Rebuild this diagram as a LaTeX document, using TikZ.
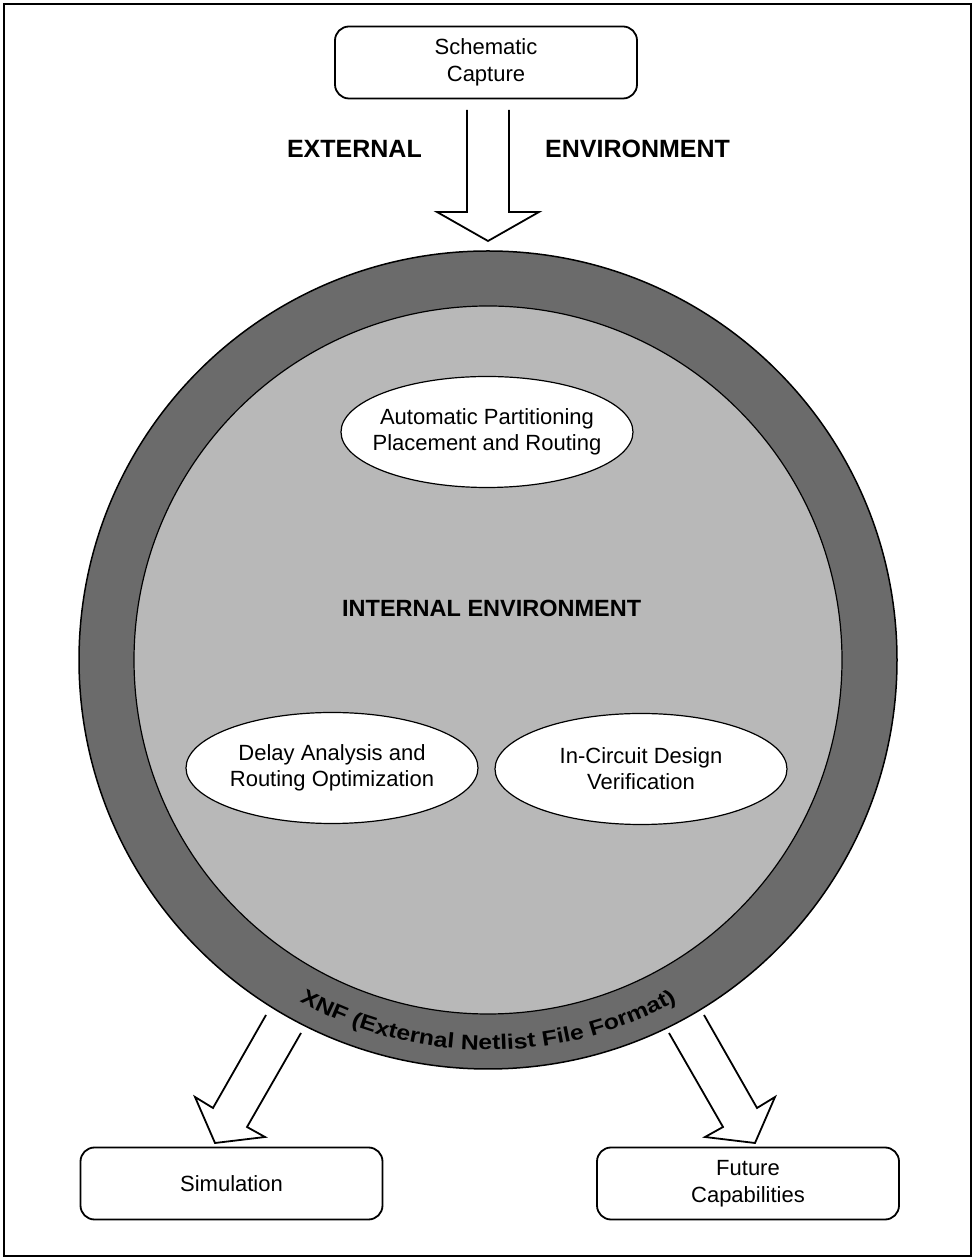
\documentclass[tikz,border=0pt]{standalone}
\usepackage{fontspec}
\setmainfont{Liberation Sans}
\newfontfamily\xnffont[FakeStretch=1.18]{Liberation Sans}
\usetikzlibrary{decorations.text,shapes.geometric}
\definecolor{ringgray}{gray}{0.42}
\definecolor{innergray}{gray}{0.72}
\begin{document}
\begin{tikzpicture}[x=1pt,y=1pt,
  box/.style={draw, line width=1.8pt, rounded corners=14pt, minimum width=302pt, minimum height=72pt, align=center, fill=white, font=\fontsize{22}{27}\selectfont},
  oval/.style={draw, ellipse, line width=1.2pt, fill=white, minimum width=292pt, minimum height=111pt, inner xsep=-12pt, inner ysep=0pt, align=center, font=\fontsize{22}{26}\selectfont},
  blockarrow/.style={draw, line width=1.8pt, line join=miter, fill=white},
  bigtitle/.style={inner sep=0pt, font=\bfseries\fontsize{25}{30}\selectfont}]
\useasboundingbox (0,0) rectangle (975,1259);
\draw[line width=1.2pt] (4,3) rectangle (971,1255);

% rings
\node[circle, draw, line width=1.5pt, fill=ringgray, minimum size=818pt, inner sep=0pt] (outer) at (488,599) {};
\node[circle, draw, line width=1.2pt, fill=innergray, minimum size=708pt, inner sep=0pt] (inner) at (488,599) {};

% boxes
\node[box] (sc) at (486,1196.5) {Schematic\\Capture};
\node[box] (sim) at (231.5,75.5) {Simulation};
\node[box] (fut) at (748,75.5) {Future\\Capabilities};

% ovals
\node[oval] (apr) at (487,827) {Automatic Partitioning\\Placement and Routing};
\node[oval] (dar) at (332,491) {Delay Analysis and\\Routing Optimization};
\node[oval] (icv) at (641,490) {In-Circuit Design\\Verification};

% titles
\node[inner sep=0pt, font=\bfseries\fontsize{23.5}{28}\selectfont, anchor=base west] (ie) at (342,642) {INTERNAL ENVIRONMENT};
\node[bigtitle, anchor=base east] (ext) at (422,1101) {EXTERNAL};
\node[bigtitle, anchor=base west] (env) at (545,1101) {ENVIRONMENT};

% top arrow
\coordinate (t1) at (467,1149);
\coordinate (t2) at (509,1149);
\draw[blockarrow] (t1) -- (467,1047) -- (437,1047) -- (488,1018) -- (539,1047) -- (509,1047) -- (t2);

% bottom left arrow
\coordinate (l1) at (266,244);
\coordinate (l2) at (301,226);
\draw[blockarrow] (l1) -- (213,151) -- (195,162) -- (215,116) -- (265,122) -- (247,132) -- (l2);

% bottom right arrow
\coordinate (r1) at (704,244);
\coordinate (r2) at (669,226);
\draw[blockarrow] (r1) -- (757,151) -- (775,162) -- (755,116) -- (705,122) -- (723,132) -- (r2);

% XNF text along ring
\path[decorate, decoration={text along path, text align=center,
  text={|\xnffont\bfseries\fontsize{21}{21}\selectfont|XNF (External Netlist File Format)}}]
  ([shift={(240:390pt)}]outer.center) arc[start angle=240, end angle=300, radius=390pt];
\end{tikzpicture}
\end{document}
